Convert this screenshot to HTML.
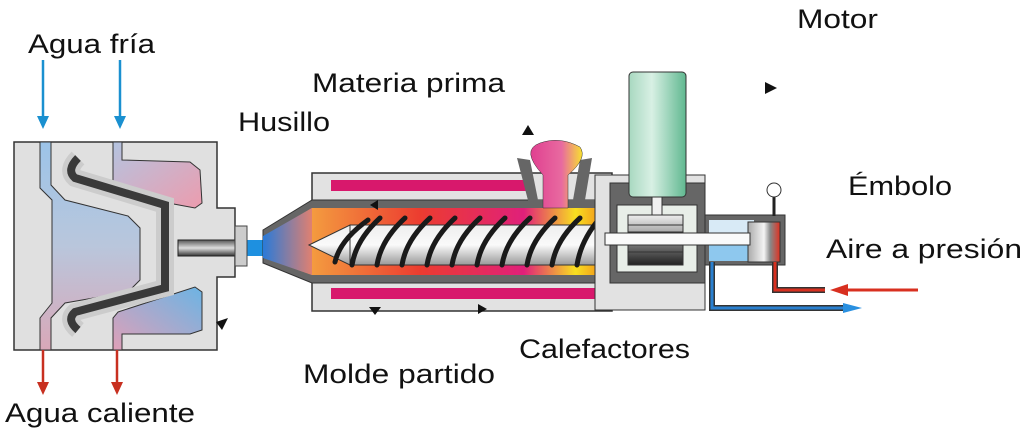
<!DOCTYPE html>
<html><head><meta charset="utf-8"><style>
body{margin:0;background:#fff;width:1024px;height:437px;overflow:hidden}
text{font-family:"Liberation Sans",sans-serif;font-size:27px;fill:#111}
</style></head><body>
<svg width="1024" height="437" viewBox="0 0 1024 437" xmlns="http://www.w3.org/2000/svg">
<defs>
<linearGradient id="bl" x1="0" y1="0" x2="0" y2="1"><stop offset="0" stop-color="#9cc4e8"/><stop offset="0.5" stop-color="#b9c6dc"/><stop offset="1" stop-color="#d9a8b8"/></linearGradient>
<linearGradient id="pk" x1="0" y1="0" x2="1" y2="1"><stop offset="0" stop-color="#b4c4e0"/><stop offset="1" stop-color="#ec9cae"/></linearGradient>
<linearGradient id="pk2" x1="0" y1="1" x2="1" y2="0"><stop offset="0" stop-color="#e0a0b8"/><stop offset="1" stop-color="#6cb4e4"/></linearGradient>
<linearGradient id="melt" x1="0" y1="0" x2="1" y2="0"><stop offset="0" stop-color="#9a8cc8"/><stop offset="0.12" stop-color="#f4a040"/><stop offset="0.45" stop-color="#ec3c30"/><stop offset="0.75" stop-color="#e0207a"/><stop offset="0.9" stop-color="#f8e020"/><stop offset="1" stop-color="#f07818"/></linearGradient>
<linearGradient id="noz" x1="0" y1="0" x2="1" y2="0"><stop offset="0" stop-color="#2a7ad8"/><stop offset="1" stop-color="#e08070"/></linearGradient>
<linearGradient id="scr" x1="0" y1="0" x2="0" y2="1"><stop offset="0" stop-color="#eee"/><stop offset="0.5" stop-color="#fafafa"/><stop offset="1" stop-color="#999"/></linearGradient>
<linearGradient id="rod" x1="0" y1="0" x2="0" y2="1"><stop offset="0" stop-color="#555"/><stop offset="0.5" stop-color="#ddd"/><stop offset="1" stop-color="#333"/></linearGradient>
<linearGradient id="gr" x1="0" y1="0" x2="1" y2="0"><stop offset="0" stop-color="#a8d8c0"/><stop offset="0.4" stop-color="#d8f0e4"/><stop offset="1" stop-color="#60b890"/></linearGradient>
<linearGradient id="gear" x1="0" y1="0" x2="0" y2="1"><stop offset="0" stop-color="#eee"/><stop offset="1" stop-color="#222"/></linearGradient>
<linearGradient id="hop" x1="0" y1="0" x2="1" y2="0"><stop offset="0" stop-color="#e04090"/><stop offset="0.6" stop-color="#e86aa0"/><stop offset="1" stop-color="#f8e030"/></linearGradient>
<linearGradient id="pis" x1="0" y1="0" x2="1" y2="0"><stop offset="0" stop-color="#aaa"/><stop offset="0.5" stop-color="#f4f4f4"/><stop offset="0.7" stop-color="#888"/><stop offset="1" stop-color="#e03020"/></linearGradient>
</defs>
<path d="M14 142H217V208H235V277H217V350H14Z" fill="#e0e0e0" stroke="#333" stroke-width="1.5"/>
<path d="M40 142H51V185L65 200L128 216L140 228V280L128 292L65 303L51 318V350H40V318L52 303V200L40 188Z" fill="url(#bl)" stroke="#333"/>
<path d="M113 142H122V160L190 162L200 170L202 203L195 208L120 194L113 185Z" fill="url(#pk)" stroke="#333"/>
<path d="M118 312L195 287L202 292L202 330L190 334H122V350H113V318Z" fill="url(#pk2)" stroke="#333"/>
<path d="M78 158Q66 170 75 178L165 205V288L75 312Q66 320 78 330" fill="none" stroke="#ccc" stroke-width="18"/>
<path d="M78 158Q66 170 75 178L165 205V288L75 312Q66 320 78 330" fill="none" stroke="#3a3a3a" stroke-width="8"/>
<rect x="178" y="240" width="57" height="16" fill="url(#rod)" stroke="#222"/>
<rect x="235" y="240" width="30" height="16" fill="#1e90e0"/>
<rect x="235" y="226" width="12" height="40" fill="#ccc" stroke="#444"/>
<rect x="312" y="173" width="300" height="138" fill="#e2e2e2" stroke="#333" stroke-width="1.5"/>
<rect x="331" y="180" width="196" height="11" fill="#d8186c"/>
<rect x="331" y="288" width="268" height="11" fill="#d8186c"/>
<path d="M263 230L312 200H612V283H312L263 263Z" fill="#666" stroke="#333"/>
<path d="M265 236L312 208H610V275H312L265 258Z" fill="url(#melt)"/>
<path d="M263 236L312 208V275L263 258Z" fill="url(#noz)"/>
<path d="M517 158L530 160L538 200H573L580 160L592 158L585 200H612V208H530Z" fill="#666"/>
<path d="M543 208V175Q520 150 540 143Q560 136 580 147Q588 158 568 175V208Z" fill="url(#hop)" stroke="#333" stroke-width="0.5"/>
<rect x="350" y="225" width="255" height="40" fill="url(#scr)" stroke="#333"/>
<path d="M309 245L350 225V265Z" fill="url(#scr)" stroke="#333"/>
<g stroke="#1a1a1a" stroke-width="5" stroke-linecap="round" fill="none">
<path d="M335 262Q340 240 368 220"/><path d="M352 265Q356 240 380 218"/><path d="M377 265Q381 240 405 218"/><path d="M402 265Q406 240 430 218"/><path d="M427 265Q431 240 455 218"/><path d="M452 265Q456 240 480 218"/><path d="M477 265Q481 240 505 218"/><path d="M502 265Q506 240 530 218"/><path d="M527 265Q531 240 555 218"/><path d="M552 265Q556 240 580 218"/><path d="M577 265Q581 240 600 218"/>
</g>
<rect x="595" y="175" width="110" height="135" fill="#e2e2e2" stroke="#333"/>
<rect x="610" y="183" width="95" height="100" fill="#666" stroke="#333"/>
<rect x="617" y="205" width="80" height="67" fill="#e8eee8" stroke="#333"/>
<rect x="652" y="195" width="10" height="20" fill="#f0f0f0" stroke="#333"/>
<rect x="629" y="72" width="57" height="125" rx="4" fill="url(#gr)" stroke="#333"/>
<rect x="628" y="215" width="55" height="50" fill="url(#gear)" stroke="#333"/>
<path d="M628 225H683M628 232H683M628 252H683" stroke="#333"/>
<rect x="705" y="215" width="80" height="50" fill="#666" stroke="#333"/>
<rect x="709" y="220" width="45" height="20" fill="#d8eaf6"/>
<rect x="709" y="240" width="45" height="21" fill="#8ec8ee"/>
<rect x="748" y="222" width="32" height="40" fill="url(#pis)" stroke="#333"/>
<rect x="605" y="233" width="145" height="12" fill="#fafafa" stroke="#333"/>
<line x1="774" y1="197" x2="774" y2="216" stroke="#222" stroke-width="3"/>
<circle cx="774" cy="190" r="7" fill="#fff" stroke="#333"/>
<path d="M712 262V308H845" fill="none" stroke="#333" stroke-width="6"/><path d="M712 262V308H845" fill="none" stroke="#2a80d0" stroke-width="3"/>
<path d="M843 303L862 308L843 313Z" fill="#2a90e0"/>
<path d="M775 262V290H825" fill="none" stroke="#333" stroke-width="6"/><path d="M775 262V290H825" fill="none" stroke="#d83020" stroke-width="3"/>
<line x1="845" y1="290" x2="918" y2="290" stroke="#d83020" stroke-width="3"/>
<path d="M848 284L830 290L848 296Z" fill="#d83020"/>
<g stroke="#1a90d0" stroke-width="2.5"><line x1="43" y1="60" x2="43" y2="120"/><line x1="120" y1="60" x2="120" y2="120"/></g>
<g fill="#1a90d0"><path d="M37 116H49L43 129Z"/><path d="M114 116H126L120 129Z"/></g>
<g stroke="#c83020" stroke-width="2.5"><line x1="43" y1="350" x2="43" y2="386"/><line x1="117" y1="350" x2="117" y2="386"/></g>
<g fill="#c83020"><path d="M37 382H49L43 395Z"/><path d="M111 382H123L117 395Z"/></g>
<g fill="#111"><path d="M765 82L777 88L765 94Z"/><path d="M522 135L528 125L534 135Z"/><path d="M216 322L228 318L222 330Z"/><path d="M369 307L381 307L375 315Z"/><path d="M478 304L487 309L478 314Z"/><path d="M378 200L370 205L378 210Z"/></g>
<text x="28" y="53" textLength="127" lengthAdjust="spacingAndGlyphs">Agua fría</text>
<text x="312" y="92" textLength="193" lengthAdjust="spacingAndGlyphs">Materia prima</text>
<text x="238" y="131" textLength="92" lengthAdjust="spacingAndGlyphs">Husillo</text>
<text x="797" y="28" textLength="81" lengthAdjust="spacingAndGlyphs">Motor</text>
<text x="848" y="195" textLength="104" lengthAdjust="spacingAndGlyphs">Émbolo</text>
<text x="826" y="258" textLength="196" lengthAdjust="spacingAndGlyphs">Aire a presión</text>
<text x="519" y="358" textLength="171" lengthAdjust="spacingAndGlyphs">Calefactores</text>
<text x="303" y="383" textLength="192" lengthAdjust="spacingAndGlyphs">Molde partido</text>
<text x="5" y="422" textLength="190" lengthAdjust="spacingAndGlyphs">Agua caliente</text>
</svg>
</body></html>
